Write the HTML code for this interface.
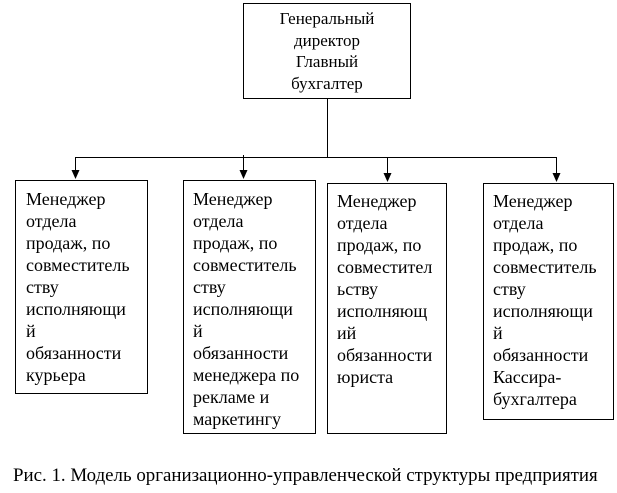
<!DOCTYPE html>
<html><head><meta charset="utf-8"><style>
body{margin:0;width:617px;height:493px;background:#fff;position:relative;overflow:hidden;font-family:"Liberation Serif","Times New Roman",serif;font-size:18px;color:#000}
.b{position:absolute;border:1px solid #000;box-sizing:border-box;line-height:22px;white-space:nowrap}
.t{position:absolute;white-space:nowrap}
</style></head><body>
<svg width="617" height="493" style="position:absolute;left:0;top:0">
<g stroke="#000" stroke-width="1" fill="none">
<line x1="327.5" y1="98" x2="327.5" y2="157.5"/>
<line x1="75" y1="157.5" x2="557" y2="157.5"/>
<line x1="75.5" y1="157" x2="75.5" y2="172"/>
<line x1="243.5" y1="155" x2="243.5" y2="172"/>
<line x1="387.5" y1="157" x2="387.5" y2="175"/>
<line x1="556.5" y1="157" x2="556.5" y2="175"/>
</g>
<g fill="#000">
<polygon points="71.5,170 79.5,170 75.5,179"/>
<polygon points="239.5,170 247.5,170 243.5,179"/>
<polygon points="383.5,173 391.5,173 387.5,182"/>
<polygon points="552.5,173 560.5,173 556.5,182"/>
</g>
</svg>
<div class="b" style="left:243px;top:3px;width:168px;height:96px;text-align:center;line-height:21.5px;padding-top:4px;font-size:17px">Генеральный<br>директор<br>Главный<br>бухгалтер</div>
<div class="b" style="left:15px;top:180px;width:133px;height:214px;padding:7px 0 0 10px">Менеджер<br>отдела<br>продаж, по<br>совместитель<br>ству<br>исполняющи<br>й<br>обязанности<br>курьера</div>
<div class="b" style="left:183px;top:180px;width:133px;height:254px;padding:7px 0 0 9px">Менеджер<br>отдела<br>продаж, по<br>совместитель<br>ству<br>исполняющи<br>й<br>обязанности<br>менеджера по<br>рекламе и<br>маркетингу</div>
<div class="b" style="left:327px;top:183px;width:120px;height:251px;padding:6px 0 0 9px">Менеджер<br>отдела<br>продаж, по<br>совместител<br>ьству<br>исполняющ<br>ий<br>обязанности<br>юриста</div>
<div class="b" style="left:483px;top:183px;width:131px;height:237px;padding:6px 0 0 9px">Менеджер<br>отдела<br>продаж, по<br>совместитель<br>ству<br>исполняющи<br>й<br>обязанности<br>Кассира-<br>бухгалтера</div>
<div class="t" style="left:13px;top:465px;font-size:18.9px">Рис. 1. Модель организационно-управленческой структуры предприятия</div>
</body></html>
